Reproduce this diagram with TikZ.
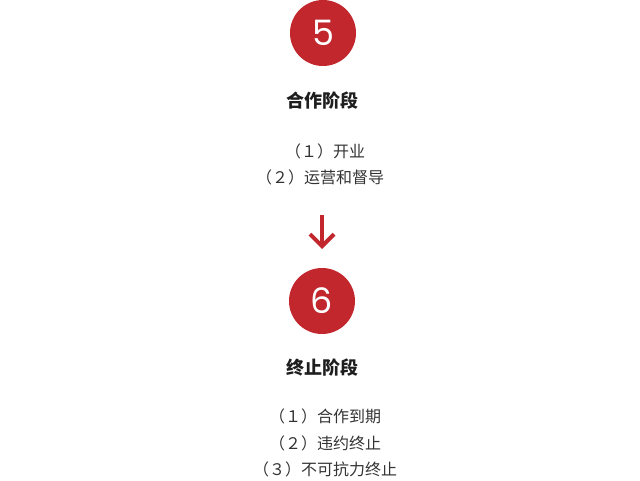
\documentclass[tikz,border=0pt]{standalone}
\usepackage{fontspec}
\setmainfont{Poppins}
\newfontfamily\cjk{Noto Sans CJK SC}
\usetikzlibrary{arrows.meta}
\definecolor{brand}{HTML}{C1272D}
\definecolor{titlec}{HTML}{1E1E1E}
\definecolor{textc}{HTML}{333333}
\tikzset{
  numcircle/.style={circle, fill=brand, minimum size=66pt, inner sep=0pt, text=white, font=\fontsize{35}{35}\selectfont},
  stagetitle/.style={text=titlec, font=\cjk\bfseries\fontsize{18}{18}\selectfont, inner sep=0pt},
  itemline/.style={text=textc, font=\cjk\fontsize{16}{16}\selectfont, inner sep=0pt},
  flowarrow/.style={draw=brand, line width=3.6pt, -{Straight Barb[length=12pt, width=24pt, line width=4pt]}}
}
\begin{document}
\begin{tikzpicture}[x=1pt, y=-1pt]
\useasboundingbox (0,0) rectangle (640,481);
\node[numcircle] (c5) at (323,33) {5};
\node[stagetitle] (t5) at (322,101) {合作阶段};
\node[itemline] (l51) at (325,151) {（１）开业};
\node[itemline] (l52) at (320,177) {（２）运营和督导};
\coordinate (a1) at (322,215);
\coordinate (a2) at (322,249);
\draw[flowarrow] (a1) -- (a2);
\node[numcircle] (c6) at (322,301) {6};
\node[stagetitle] (t6) at (322,368) {终止阶段};
\node[itemline] (l61) at (325,416) {（１）合作到期};
\node[itemline] (l62) at (325,443) {（２）违约终止};
\node[itemline] (l63) at (325,469) {（３）不可抗力终止};
\end{tikzpicture}
\end{document}
